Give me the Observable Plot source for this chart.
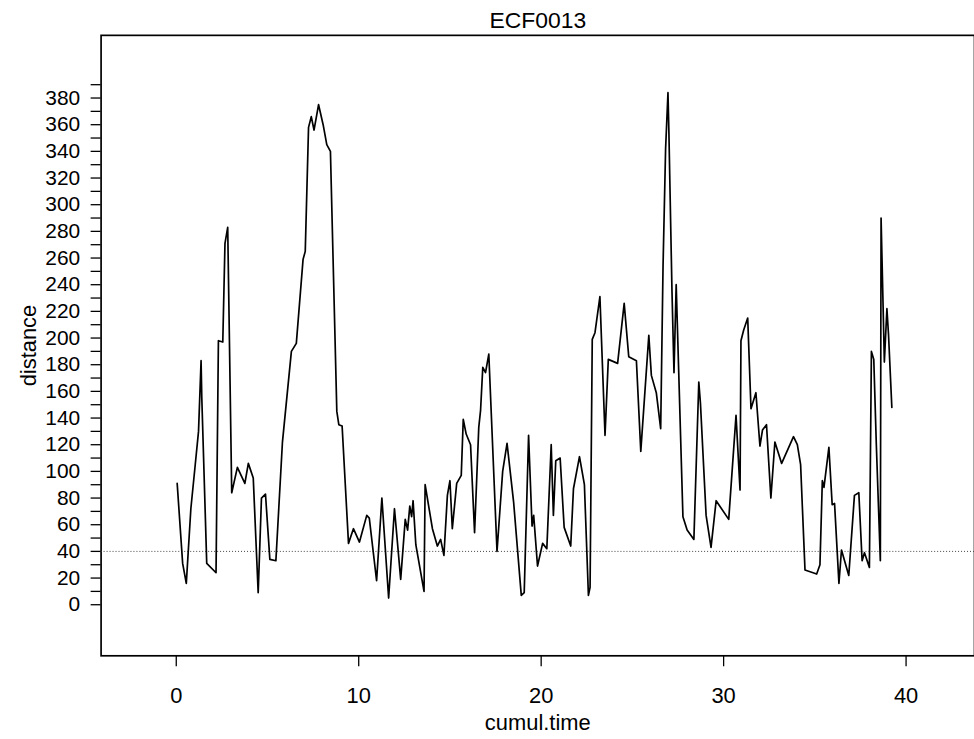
<!DOCTYPE html>
<html><head><meta charset="utf-8">
<script src="https://cdn.jsdelivr.net/npm/d3@7"></script>
<script src="https://cdn.jsdelivr.net/npm/@observablehq/plot@0.6"></script>
<style>
html,body{margin:0;padding:0;background:#fff;overflow:hidden;}
#chart{width:974px;height:739px;overflow:hidden;}
</style></head><body><div id="chart"></div>
<script>
const title = "ECF0013";
const xLabel = "cumul.time";
const yLabel = "distance";
const xTicks = [0, 10, 20, 30, 40];
const yTicks = d3.range(0, 400, 10);
const threshold = 40;

const cumulTime = [
  0.05, 0.35, 0.55, 0.8, 1.04, 1.22, 1.36, 1.4, 1.67, 2.18, 2.31, 2.55, 2.67, 2.82,
  3.04, 3.35, 3.76, 3.95, 4.22, 4.49, 4.67, 4.89, 5.13, 5.46, 5.82, 6.31, 6.58, 6.95,
  7.07, 7.25, 7.4, 7.55, 7.8, 8.05, 8.25, 8.45, 8.8, 8.91, 9.09, 9.44, 9.71, 10.04,
  10.44, 10.58, 10.98, 11.27, 11.64, 11.96, 12.3, 12.55, 12.68, 12.8, 12.9, 12.98,
  13.13, 13.58, 13.64, 14.04, 14.31, 14.49, 14.67, 14.86, 15.0, 15.13, 15.37, 15.62,
  15.73, 15.89, 16.13, 16.35, 16.58, 16.68, 16.8, 16.95, 17.13, 17.58, 17.89, 18.13,
  18.49, 18.91, 19.07, 19.31, 19.5, 19.59, 19.8, 20.08, 20.31, 20.55, 20.67, 20.8,
  21.04, 21.26, 21.62, 21.77, 22.1, 22.37, 22.59, 22.68, 22.8, 22.95, 23.22, 23.5,
  23.68, 24.19, 24.55, 24.8, 25.22, 25.46, 25.9, 26.04, 26.31, 26.55, 26.68, 26.82,
  26.95, 27.0, 27.17, 27.28, 27.4, 27.77, 28.0, 28.37, 28.64, 28.73, 29.04, 29.31,
  29.59, 30.28, 30.68, 30.9, 30.95, 31.1, 31.32, 31.5, 31.77, 31.99, 32.13, 32.35,
  32.59, 32.81, 33.18, 33.83, 34.04, 34.22, 34.46, 35.1, 35.28, 35.41, 35.5, 35.77,
  35.95, 36.08, 36.32, 36.46, 36.86, 37.17, 37.41, 37.59, 37.72, 37.99, 38.1, 38.23,
  38.37, 38.59, 38.63, 38.74, 38.81, 38.95, 39.04, 39.22
];
const distance = [
  91, 31, 16, 72, 105, 130, 183, 155, 31, 24, 198, 197, 271, 283,
  84, 103, 91, 106, 95, 9, 80, 83, 34, 33, 122, 190, 196, 259,
  265, 358, 366, 356, 375, 360, 345, 340, 145, 135, 134, 46, 57, 47,
  67, 65, 18, 80, 5, 72, 19, 64, 56, 74, 66, 78,
  45, 10, 90, 57, 44, 49, 37, 82, 93, 57, 91, 97,
  139, 128, 120, 54, 133, 146, 178, 174, 188, 40, 100, 121,
  77, 7, 9, 127, 59, 67, 29, 46, 42, 120, 67, 108,
  110, 58, 44, 87, 111, 90, 7, 13, 199, 204, 231, 127,
  184, 181, 226, 186, 183, 115, 202, 172, 159, 132, 254, 342,
  384, 355, 235, 174, 240, 66, 56, 49, 167, 151, 67, 43,
  78, 64, 142, 86, 198, 206, 215, 147, 159, 119, 131, 135,
  80, 122, 106, 126, 120, 105, 26, 23, 30, 93, 88, 118,
  75, 76, 16, 41, 22, 82, 84, 33, 39, 28, 190, 184,
  120, 33, 290, 224, 182, 222, 202, 148
];

const data = cumulTime.map((t, i) => ({t, d: distance[i]}));

const chart = Plot.plot({
  width: 978,
  height: 739,
  marginLeft: 101,
  marginRight: 0,
  marginTop: 35,
  marginBottom: 81,
  style: {fontFamily: "'Liberation Sans', Arial, Helvetica, sans-serif", background: "#fff", color: "#000"},
  x: {domain: [-4.12, 43.75]},
  y: {domain: [-38.3, 427]},
  marks: [
    Plot.frame({stroke: "#000", strokeWidth: 1.7}),
    Plot.ruleY([threshold], {stroke: "#444", strokeWidth: 1, strokeDasharray: "1,2"}),
    Plot.line(data, {x: "t", y: "d", stroke: "#000", strokeWidth: 1.7}),
    Plot.axisX(xTicks, {tickSize: 11, tickPadding: 21, fontSize: 22, label: null, strokeWidth: 1.3}),
    Plot.axisY(yTicks, {tickSize: 10, tickPadding: 11, fontSize: 21, label: null, strokeWidth: 1.3,
      tickFormat: d => d % 20 === 0 ? String(d) : ""}),
    Plot.text([title], {frameAnchor: "top", lineAnchor: "middle", textAnchor: "middle", dy: -15, fontSize: 23}),
    Plot.text([xLabel], {frameAnchor: "bottom", lineAnchor: "middle", textAnchor: "middle", dy: 67, fontSize: 22}),
    Plot.text([yLabel], {frameAnchor: "left", lineAnchor: "middle", textAnchor: "middle", dx: -72, rotate: -90, fontSize: 22})
  ]
});
document.getElementById("chart").appendChild(chart);
</script>
</body></html>
